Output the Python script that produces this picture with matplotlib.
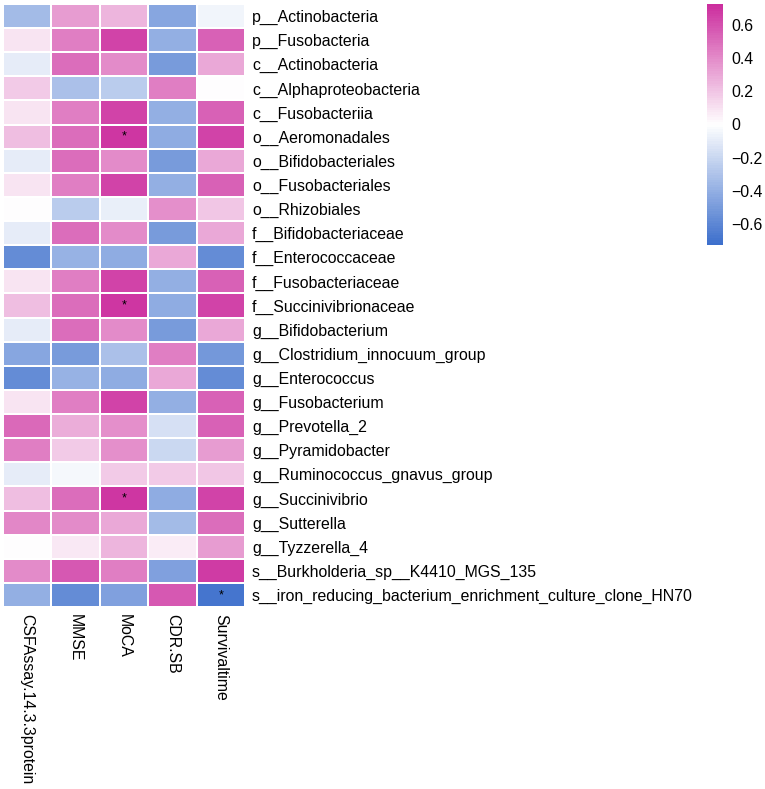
import numpy as np
import matplotlib
matplotlib.use("Agg")
import matplotlib.pyplot as plt
from matplotlib.colors import LinearSegmentedColormap

plt.rcParams['font.family'] = ['Liberation Sans', 'DejaVu Sans']

taxa = [
    "p__Actinobacteria", "p__Fusobacteria", "c__Actinobacteria",
    "c__Alphaproteobacteria", "c__Fusobacteriia", "o__Aeromonadales",
    "o__Bifidobacteriales", "o__Fusobacteriales", "o__Rhizobiales",
    "f__Bifidobacteriaceae", "f__Enterococcaceae", "f__Fusobacteriaceae",
    "f__Succinivibrionaceae", "g__Bifidobacterium",
    "g__Clostridium_innocuum_group", "g__Enterococcus", "g__Fusobacterium",
    "g__Prevotella_2", "g__Pyramidobacter", "g__Ruminococcus_gnavus_group",
    "g__Succinivibrio", "g__Sutterella", "g__Tyzzerella_4",
    "s__Burkholderia_sp__K4410_MGS_135",
    "s__iron_reducing_bacterium_enrichment_culture_clone_HN70",
]
clinical = ["CSFAssay.14.3.3protein", "MMSE", "MoCA", "CDR.SB", "Survivaltime"]

# correlation values, one list per clinical variable (rows follow taxa)
csf = [-0.34, 0.10, -0.10, 0.18, 0.10, 0.22, -0.10, 0.10, 0.00, -0.10,
       -0.58, 0.10, 0.22, -0.10, -0.44, -0.58, 0.10, 0.52, 0.45, -0.10,
       0.22, 0.42, 0.00, 0.40, -0.40]
mmse = [0.35, 0.45, 0.50, -0.32, 0.45, 0.50, 0.50, 0.45, -0.25, 0.50,
        -0.38, 0.45, 0.50, 0.50, -0.50, -0.38, 0.45, 0.28, 0.18, -0.03,
        0.50, 0.40, 0.08, 0.58, -0.58]
moca = [0.25, 0.65, 0.40, -0.25, 0.65, 0.70, 0.40, 0.65, -0.08, 0.40,
        -0.42, 0.65, 0.70, 0.40, -0.32, -0.42, 0.65, 0.38, 0.38, 0.18,
        0.70, 0.30, 0.25, 0.45, -0.48]
cdr = [-0.45, -0.40, -0.50, 0.45, -0.40, -0.42, -0.50, -0.40, 0.38, -0.50,
       0.30, -0.40, -0.42, -0.50, 0.45, 0.30, -0.40, -0.15, -0.20, 0.18,
       -0.42, -0.35, 0.06, -0.48, 0.58]
surv = [-0.05, 0.55, 0.30, 0.00, 0.55, 0.65, 0.30, 0.55, 0.20, 0.30,
        -0.58, 0.55, 0.65, 0.30, -0.52, -0.58, 0.55, 0.55, 0.35, 0.20,
        0.65, 0.50, 0.35, 0.68, -0.70]

# significant cells (row, column)
signif = [(5, 2), (12, 2), (20, 2), (24, 4)]

mat = np.array([csf, mmse, moca, cdr, surv]).T
nrow, ncol = mat.shape

W, H = 765, 789
fig = plt.figure(figsize=(W / 100, H / 100), dpi=100)

cmap = LinearSegmentedColormap.from_list("bwp", ["#3d6fcc", "#ffffff", "#cc2e9e"], N=100)
vlim = 0.73

ax = fig.add_axes([3 / W, 1 - 607 / H, 242 / W, 603 / H])
mesh = ax.pcolormesh(mat, cmap=cmap, vmin=-vlim, vmax=vlim,
                     edgecolors="white", linewidth=1.2)
ax.set_xlim(0, ncol)
ax.set_ylim(nrow, 0)
for s in ax.spines.values():
    s.set_visible(False)

ax.set_yticks(np.arange(nrow) + 0.5)
ax.set_yticklabels(taxa, fontsize=11.4)
ax.yaxis.tick_right()
ax.set_xticks(np.arange(ncol) + 0.5)
ax.set_xticklabels(clinical, rotation=-90, fontsize=11.4, va="top", ha="center")
ax.tick_params(length=0, pad=5)

for r, c in signif:
    ax.text(c + 0.5, r + 0.5, "*", ha="center", va="center", fontsize=9, color="black")

cax = fig.add_axes([707 / W, 1 - 245 / H, 16 / W, 241 / H])
cb = fig.colorbar(mesh, cax=cax, ticks=[-0.6, -0.4, -0.2, 0, 0.2, 0.4, 0.6])
cb.ax.set_yticklabels(["\u22120.6", "\u22120.4", "\u22120.2", "0", "0.2", "0.4", "0.6"])
cb.ax.tick_params(length=0, labelsize=11.4, pad=6)
cb.outline.set_visible(False)

fig.savefig("out.png", dpi=100)
